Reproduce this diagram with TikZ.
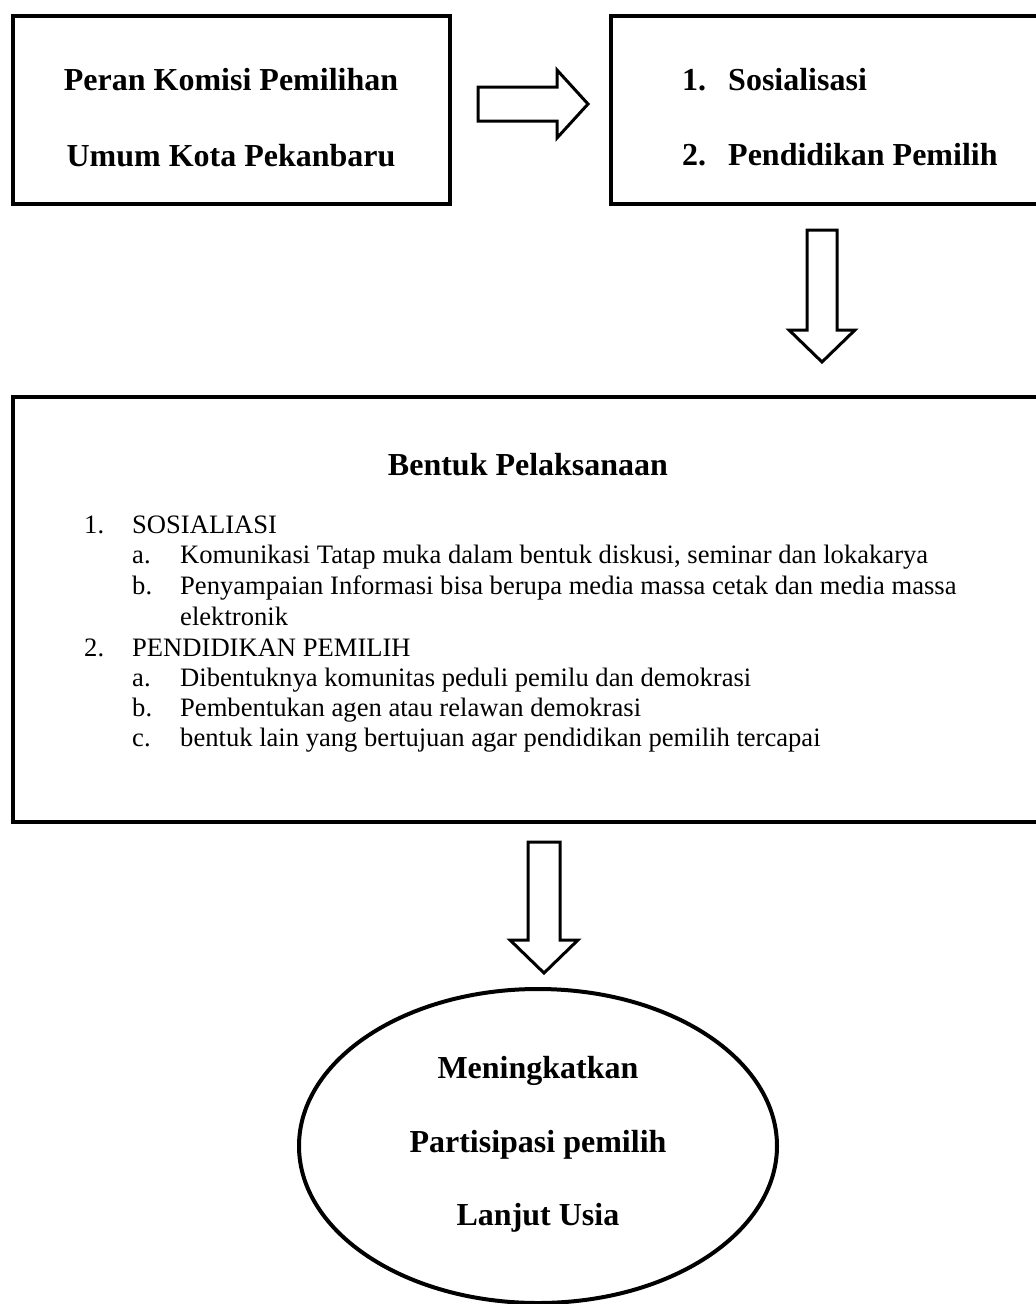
\documentclass[tikz,border=0pt]{standalone}
\usepackage{fontspec}
\setmainfont{Liberation Serif}
\usetikzlibrary{positioning,shapes.geometric}
\tikzset{
  boxframe/.style={draw=black, line width=4pt, fill=white, inner sep=0pt},
  blockarrow/.style={draw=black, line width=3pt, fill=white, line join=miter},
  bigtext/.style={font=\fontsize{32}{38}\selectfont\bfseries, anchor=base, inner sep=0pt},
  listtext/.style={font=\fontsize{26.6}{31}\selectfont, anchor=base west, inner sep=0pt},
}
\begin{document}
\begin{tikzpicture}[x=1pt,y=-1pt]
\clip (0,0) rectangle (1036,1304);
\fill[white] (0,0) rectangle (1036,1304);
% boxes
\node[boxframe, minimum width=437pt, minimum height=188pt] (box1) at (231.5,110) {};
\node[boxframe, minimum width=434pt, minimum height=188pt] (box2) at (828,110) {};
\node[boxframe, minimum width=1032pt, minimum height=425pt] (box3) at (529,609.5) {};
\node[draw=black, line width=4pt, fill=white, ellipse, minimum width=478pt, minimum height=314pt, inner sep=0pt] (goal) at (538,1146) {};
% texts box1
\node[bigtext] (t1a) at (231,90) {Peran Komisi Pemilihan};
\node[bigtext] (t1b) at (231,166) {Umum Kota Pekanbaru};
% texts box2
\node[bigtext, anchor=base west] (n2a) at (682,90) {1.};
\node[bigtext, anchor=base west] (t2a) at (728,90) {Sosialisasi};
\node[bigtext, anchor=base west] (n2b) at (682,165) {2.};
\node[bigtext, anchor=base west] (t2b) at (728,165) {Pendidikan Pemilih};
% box3
\node[bigtext] (t3) at (528,475) {Bentuk Pelaksanaan};
\node[listtext] (l1n) at (84,533) {1.};
\node[listtext] (l1) at (132,533) {SOSIALIASI};
\node[listtext] (l1an) at (132,563) {a.};
\node[listtext] (l1a) at (180,563) {Komunikasi Tatap muka dalam bentuk diskusi, seminar dan lokakarya};
\node[listtext] (l1bn) at (132,594) {b.};
\node[listtext] (l1b) at (180,594) {Penyampaian Informasi bisa berupa media massa cetak dan media massa};
\node[listtext] (l1b2) at (180,625) {elektronik};
\node[listtext] (l2n) at (84,656) {2.};
\node[listtext] (l2) at (132,656) {PENDIDIKAN PEMILIH};
\node[listtext] (l2an) at (132,686) {a.};
\node[listtext] (l2a) at (180,686) {Dibentuknya komunitas peduli pemilu dan demokrasi};
\node[listtext] (l2bn) at (132,716) {b.};
\node[listtext] (l2b) at (180,716) {Pembentukan agen atau relawan demokrasi};
\node[listtext] (l2cn) at (132,746) {c.};
\node[listtext] (l2c) at (180,746) {bentuk lain yang bertujuan agar pendidikan pemilih tercapai};
% ellipse text
\node[bigtext] (g1) at (538,1078) {Meningkatkan};
\node[bigtext] (g2) at (538,1152) {Partisipasi pemilih};
\node[bigtext] (g3) at (538,1225) {Lanjut Usia};
% block arrows
\draw[blockarrow] (478,87) -- (557,87) -- (557,70) -- (588,104) -- (557,138) -- (557,121) -- (478,121) -- cycle;
\draw[blockarrow] (807,230) -- (837,230) -- (837,330) -- (855,330) -- (822,362) -- (789,330) -- (807,330) -- cycle;
\draw[blockarrow] (528,842) -- (560,842) -- (560,940) -- (578,940) -- (544,973) -- (510,940) -- (528,940) -- cycle;
\end{tikzpicture}
\end{document}
